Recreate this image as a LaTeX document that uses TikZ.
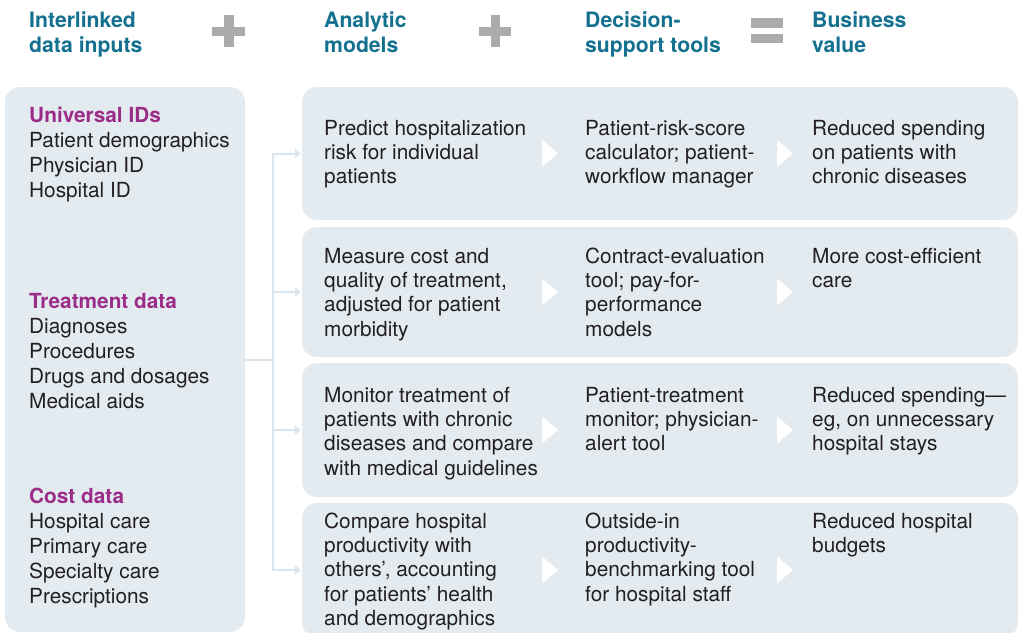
\documentclass[tikz,border=0pt]{standalone}
\usepackage{fontspec}
\setmainfont{TeX Gyre Heros}
\usetikzlibrary{arrows.meta,positioning}

\definecolor{boxblue}{HTML}{E3EBF1}
\definecolor{linkblue}{HTML}{DAE5ED}
\definecolor{headteal}{HTML}{14708F}
\definecolor{catpurple}{HTML}{9B2C87}
\definecolor{signgrey}{HTML}{ABABAB}
\definecolor{bodytext}{HTML}{231F20}

\begin{document}
\begin{tikzpicture}[
	x = 1pt, y = -1pt, % pixel grid, y pointing down
	> = {Triangle[length=6pt, width=9pt]}, % arrow head style
	head/.style={anchor=base west, align=left, inner sep=0pt, text=headteal, font=\fontsize{21.2}{25}\selectfont\bfseries},
	body/.style={anchor=base west, align=left, inner sep=0pt, text=bodytext, font=\fontsize{20.8}{24.4}\selectfont},
	side/.style={body, font=\fontsize{20.8}{25}\selectfont},
	panel/.style={draw=none, fill=boxblue, rounded corners=15pt, inner sep=0pt},
	link/.style={draw=linkblue, line width=2pt},
	]

	\useasboundingbox (0,0) rectangle (1022,632);

	% Column headings (placed at the baseline of their last line)
	\node[head] (H1) at (29,52) {Interlinked\\data inputs};
	\node[head] (H2) at (324,52) {Analytic\\models};
	\node[head] (H3) at (585,52) {Decision-\\support tools};
	\node[head] (H4) at (812,52) {Business\\value};
	% plus and equal signs
	\fill[signgrey] (212,26.5) rectangle (245,35.5);
	\fill[signgrey] (224,15) rectangle (233.5,47);
	\fill[signgrey] (479,26.5) rectangle (511,35.5);
	\fill[signgrey] (490.5,15) rectangle (500,47);
	\fill[signgrey] (751,18) rectangle (783,27.5);
	\fill[signgrey] (751,33.5) rectangle (783,43);

	% Data inputs panel
	\node[panel, minimum width=240pt, minimum height=545pt] (L) at (125,359.5) {};
	\node[side] (ids) at (29,197) {\textcolor{catpurple}{\bfseries Universal IDs}\\Patient demographics\\Physician ID\\Hospital ID};
	\node[side] (treat) at (29,408) {\textcolor{catpurple}{\bfseries Treatment data}\\Diagnoses\\Procedures\\Drugs and dosages\\Medical aids};
	\node[side] (cost) at (29,603) {\textcolor{catpurple}{\bfseries Cost data}\\Hospital care\\Primary care\\Specialty care\\Prescriptions};

	% Rows: model, tool, value
	\node[panel, minimum width=716pt, minimum height=133pt] (R1) at (660,153.5) {};
	\node[panel, minimum width=716pt, minimum height=130pt] (R2) at (660,292) {};
	\node[panel, minimum width=716pt, minimum height=134pt] (R3) at (660,430) {};
	\node[panel, minimum width=716pt, minimum height=134pt] (R4) at (660,570) {};

	\node[body] (m1) at (324,183.8) {Predict hospitalization\\risk for individual\\patients};
	\node[body] (t1) at (585,183.8) {Patient-risk-score\\calculator; patient-\\workflow manager};
	\node[body] (v1) at (812,183.8) {Reduced spending\\on patients with\\chronic diseases};

	\node[body] (m2) at (324,336.2) {Measure cost and\\quality of treatment,\\adjusted for patient\\morbidity};
	\node[body] (t2) at (585,336.2) {Contract-evaluation\\tool; pay-for-\\performance\\models};
	\node[body] (v2) at (812,287.4) {More cost-efficient\\care};

	\node[body] (m3) at (324,475.2) {Monitor treatment of\\patients with chronic\\diseases and compare\\with medical guidelines};
	\node[body] (t3) at (585,450.8) {Patient-treatment\\monitor; physician-\\alert tool};
	\node[body] (v3) at (812,450.8) {Reduced spending---\\eg, on unnecessary\\hospital stays};

	\node[body] (m4) at (324,625.6) {Compare hospital\\productivity with\\others’, accounting\\for patients’ health\\and demographics};
	\node[body] (t4) at (585,601.2) {Outside-in\\productivity-\\benchmarking tool\\for hospital staff};
	\node[body] (v4) at (812,552.4) {Reduced hospital\\budgets};

	% white chevrons between columns
	\fill[white] (542,140) -- ++(16,13.5) -- ++(-16,13.5) -- cycle;
	\fill[white] (777,140) -- ++(16,13.5) -- ++(-16,13.5) -- cycle;
	\fill[white] (542,278.5) -- ++(16,13.5) -- ++(-16,13.5) -- cycle;
	\fill[white] (777,278.5) -- ++(16,13.5) -- ++(-16,13.5) -- cycle;
	\fill[white] (542,416.5) -- ++(16,13.5) -- ++(-16,13.5) -- cycle;
	\fill[white] (777,416.5) -- ++(16,13.5) -- ++(-16,13.5) -- cycle;
	\fill[white] (542,556.5) -- ++(16,13.5) -- ++(-16,13.5) -- cycle;
	\fill[white] (777,556.5) -- ++(16,13.5) -- ++(-16,13.5) -- cycle;

	% Paths connecting inputs to rows
	\coordinate (J) at (273,360);
	\path[link] (L.east |- J) -- (J);
	\path[link, ->, shorten >=1pt] (J) |- (R1.west);
	\path[link, ->, shorten >=1pt] (J) |- (R2.west);
	\path[link, ->, shorten >=1pt] (J) |- (R3.west);
	\path[link, ->, shorten >=1pt] (J) |- (R4.west);

\end{tikzpicture}
\end{document}
